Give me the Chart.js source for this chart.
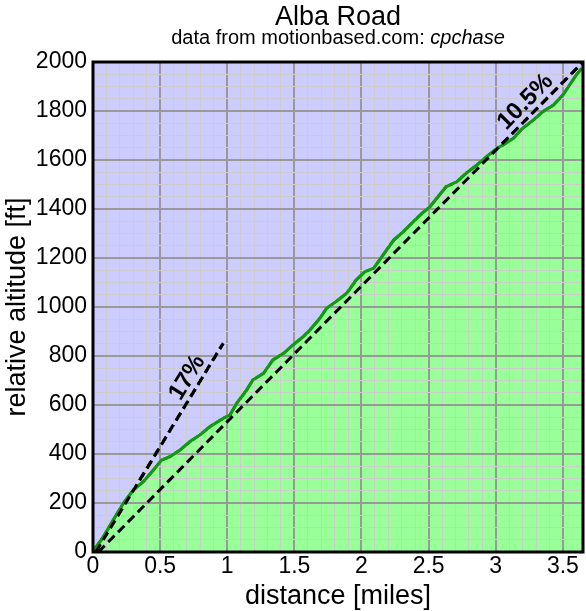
<!DOCTYPE html>
<html>
<head>
<meta charset="utf-8">
<title>Alba Road</title>
<script src="https://cdn.jsdelivr.net/npm/chart.js@4.4.0/dist/chart.umd.min.js"></script>
<style>
  html, body { margin: 0; padding: 0; background: #fff; }
  canvas { display: block; }
</style>
</head>
<body>
<canvas id="AltitudeChart" width="586" height="611"></canvas>
<script>
// climb profile
var distanceMiles = [0, 0.007, 0.077, 0.15, 0.226, 0.30, 0.375, 0.45, 0.51, 0.573, 0.648, 0.72, 0.797, 0.87, 0.97,
  1.02, 1.07, 1.144, 1.19, 1.27, 1.34, 1.42, 1.49, 1.566, 1.616, 1.69, 1.74, 1.81, 1.89, 1.96,
  2.025, 2.09, 2.16, 2.24, 2.31, 2.385, 2.45, 2.51, 2.57, 2.63, 2.71, 2.78, 2.86, 2.93,
  3.01, 3.055, 3.13, 3.20, 3.28, 3.35, 3.43, 3.50, 3.55, 3.60, 3.64];
var altitudeFt = [0, 8, 62, 130, 199, 253, 287, 335, 375, 389, 416, 450, 478, 511, 546,
  559, 607, 661, 702, 729, 784, 811, 845, 879, 906, 954, 995, 1022, 1056, 1110,
  1144, 1158, 1212, 1273, 1307, 1348, 1382, 1409, 1450, 1491, 1511, 1546, 1580, 1613,
  1648, 1661, 1688, 1729, 1763, 1797, 1824, 1865, 1906, 1947, 1974];

// reference grades
var grade17X = [0.021, 0.97];
var grade17Y = [0, 852];
var grade105X = [0.04, 3.65];
var grade105Y = [0, 2000];
var gradeNames = ["17%", "10.5%"];

var xMajorTicks = [0, 0.5, 1, 1.5, 2, 2.5, 3, 3.5];
var yMajorTicks = [0, 200, 400, 600, 800, 1000, 1200, 1400, 1600, 1800, 2000];

function toPoints(xs, ys) {
  return xs.map(function (x, i) { return { x: x, y: ys[i] }; });
}
function isMajor(v, list) {
  return list.some(function (m) { return Math.abs(v - m) < 1e-6; });
}

var FONT = "'Liberation Sans', Arial, Helvetica, sans-serif";
Chart.defaults.font.family = FONT;
Chart.defaults.color = '#000';

var profilePlugin = {
  id: 'profile',
  beforeDraw: function (chart) {
    var a = chart.chartArea, ctx = chart.ctx;
    ctx.save();
    ctx.fillStyle = '#ccccff';
    ctx.fillRect(a.left, a.top, a.right - a.left, a.bottom - a.top);
    ctx.restore();
  },
  afterDraw: function (chart) {
    var a = chart.chartArea, ctx = chart.ctx;
    var xs = chart.scales.x, ys = chart.scales.y;

    // lines back on top of the grid
    ctx.save();
    ctx.beginPath();
    ctx.rect(a.left, a.top, a.right - a.left, a.bottom - a.top);
    ctx.clip();
    [0, 1, 2].forEach(function (i) { chart.getDatasetMeta(i).controller.draw(); });
    ctx.restore();

    // grade labels along the dashed lines
    var labels = [
      { text: gradeNames[0], at: [0.785, 684], gx: grade17X, gy: grade17Y },
      { text: gradeNames[1], at: [3.29, 1800], gx: grade105X, gy: grade105Y }
    ];
    labels.forEach(function (l) {
      var x1 = xs.getPixelForValue(l.gx[0]), y1 = ys.getPixelForValue(l.gy[0]);
      var x2 = xs.getPixelForValue(l.gx[1]), y2 = ys.getPixelForValue(l.gy[1]);
      var ang = Math.atan2(y2 - y1, x2 - x1);
      ctx.save();
      ctx.translate(xs.getPixelForValue(l.at[0]), ys.getPixelForValue(l.at[1]));
      ctx.rotate(ang);
      ctx.font = 'bold 24px ' + FONT;
      ctx.fillStyle = '#000';
      ctx.textAlign = 'center';
      ctx.textBaseline = 'middle';
      ctx.fillText(l.text, 0, -13);
      ctx.restore();
    });

    // frame
    ctx.save();
    ctx.strokeStyle = '#000';
    ctx.lineWidth = 3;
    ctx.strokeRect(a.left, a.top, a.right - a.left, a.bottom - a.top);
    ctx.restore();

    // title + subtitle
    var cx = (a.left + a.right) / 2;
    ctx.save();
    ctx.fillStyle = '#000';
    ctx.textBaseline = 'alphabetic';
    ctx.textAlign = 'center';
    ctx.font = '27px ' + FONT;
    ctx.fillText('Alba Road', cx, 25);
    var s1 = 'data from motionbased.com: ', s2 = 'cpchase';
    ctx.font = '20px ' + FONT;
    var w1 = ctx.measureText(s1).width;
    ctx.font = 'italic 20px ' + FONT;
    var w2 = ctx.measureText(s2).width;
    var sx = cx - (w1 + w2) / 2;
    ctx.textAlign = 'left';
    ctx.font = '20px ' + FONT;
    ctx.fillText(s1, sx, 44);
    ctx.font = 'italic 20px ' + FONT;
    ctx.fillText(s2, sx + w1, 44);
    ctx.restore();
  }
};

var ctx = document.getElementById('AltitudeChart').getContext('2d');
var altitudeChart = new Chart(ctx, {
  type: 'line',
  data: {
    datasets: [{
      data: toPoints(distanceMiles, altitudeFt),
      borderColor: '#119911',
      borderWidth: 3,
      backgroundColor: '#99ff99',
      fill: 'origin',
      pointRadius: 0,
      tension: 0
    }, {
      data: toPoints(grade17X, grade17Y),
      borderColor: '#000',
      borderWidth: 3,
      borderDash: [9, 5],
      fill: false,
      pointRadius: 0
    }, {
      data: toPoints(grade105X, grade105Y),
      borderColor: '#000',
      borderWidth: 3,
      borderDash: [9, 5],
      fill: false,
      pointRadius: 0
    }]
  },
  options: {
    responsive: false,
    animation: false,
    layout: { padding: { top: 62, right: 3, left: 0, bottom: 0 } },
    plugins: {
      legend: { display: false },
      title: { display: false },
      tooltip: { enabled: false }
    },
    scales: {
      x: {
        type: 'linear',
        min: 0,
        max: 3.65,
        afterFit: function (s) { s.height = 59; },
        border: { display: false },
        grid: {
          z: 1,
          drawTicks: false,
          color: function (c) { return isMajor(c.tick.value, xMajorTicks) ? '#999999' : '#cccccc'; },
          lineWidth: function (c) { return isMajor(c.tick.value, xMajorTicks) ? 2 : 1; }
        },
        ticks: {
          stepSize: 0.1,
          autoSkip: false,
          maxRotation: 0,
          padding: 1,
          font: { size: 23 },
          callback: function (v) { return isMajor(v, xMajorTicks) ? String(Math.round(v * 10) / 10) : ''; }
        },
        title: {
          display: true,
          text: 'distance [miles]',
          font: { size: 27, lineHeight: 1.08 },
          padding: { top: 0, bottom: 0 }
        }
      },
      y: {
        min: 0,
        max: 2000,
        afterFit: function (s) { s.width = 93; },
        border: { display: false },
        grid: {
          z: 1,
          drawTicks: false,
          color: function (c) { return isMajor(c.tick.value, yMajorTicks) ? '#999999' : '#cccccc'; },
          lineWidth: function (c) { return isMajor(c.tick.value, yMajorTicks) ? 2 : 1; }
        },
        ticks: {
          stepSize: 50,
          autoSkip: false,
          padding: 6,
          font: { size: 23 },
          callback: function (v) { return isMajor(v, yMajorTicks) ? String(v) : ''; }
        },
        title: {
          display: true,
          text: 'relative altitude [ft]',
          font: { size: 27, lineHeight: 1.2 },
          padding: { top: 1, bottom: 0 }
        }
      }
    }
  },
  plugins: [profilePlugin]
});
</script>
</body>
</html>
